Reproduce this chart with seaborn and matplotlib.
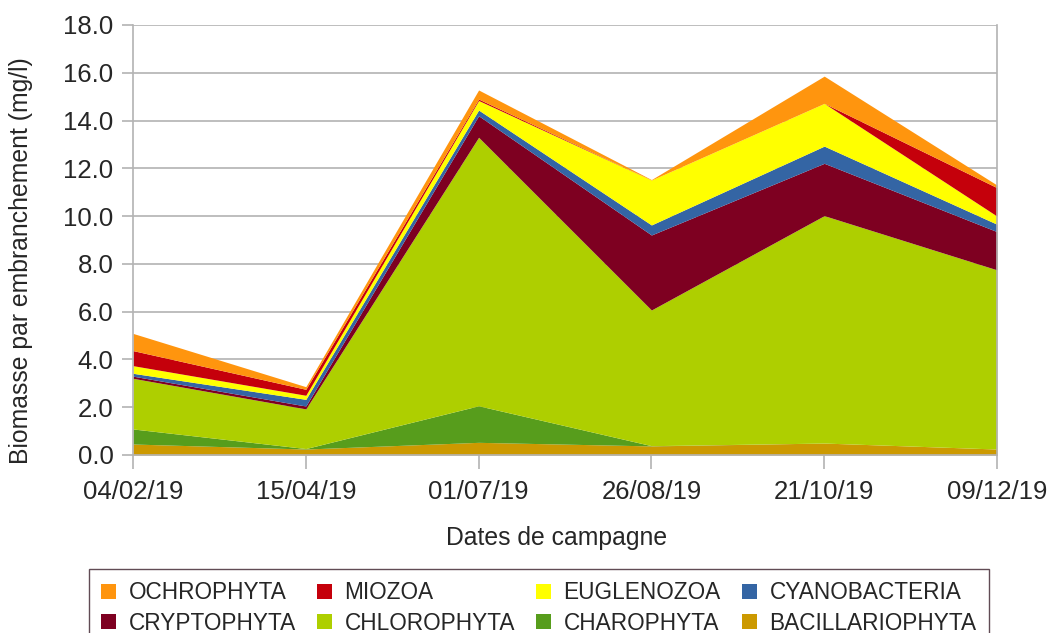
import matplotlib
matplotlib.use("Agg")
import matplotlib.pyplot as plt
import numpy as np
import seaborn as sns
from matplotlib.patches import Patch

# campaign dates (x categories)
dates = ["04/02/19", "15/04/19", "01/07/19", "26/08/19", "21/10/19", "09/12/19"]

# biomass per phylum (mg/l), bottom of the stack first
bacillariophyta = [0.46, 0.25, 0.53, 0.38, 0.50, 0.25]
charophyta      = [0.63, 0.02, 1.53, 0.01, 0.00, 0.00]
chlorophyta     = [2.12, 1.66, 11.24, 5.68, 9.52, 7.50]
cryptophyta     = [0.09, 0.12, 0.90, 3.14, 2.19, 1.60]
cyanobacteria   = [0.12, 0.28, 0.24, 0.42, 0.72, 0.31]
euglenozoa      = [0.32, 0.17, 0.40, 1.88, 1.79, 0.34]
miozoa          = [0.63, 0.25, 0.06, 0.00, 0.00, 1.19]
ochrophyta      = [0.72, 0.11, 0.38, 0.02, 1.14, 0.11]

names = ["BACILLARIOPHYTA", "CHAROPHYTA", "CHLOROPHYTA", "CRYPTOPHYTA",
         "CYANOBACTERIA", "EUGLENOZOA", "MIOZOA", "OCHROPHYTA"]
series = [bacillariophyta, charophyta, chlorophyta, cryptophyta,
          cyanobacteria, euglenozoa, miozoa, ochrophyta]
colors = ["#CC9900", "#579D1C", "#AECF00", "#7E0021",
          "#3465A4", "#FFFF00", "#C5000B", "#FF950E"]

sns.set_theme(style="white")
plt.rcParams['font.family'] = ['Liberation Sans', 'DejaVu Sans']

fig = plt.figure(figsize=(10.51, 6.33), dpi=100)
ax = fig.add_axes([133/1051, 1-455/633, (997-133)/1051, (455-25)/633])

x = np.arange(len(dates))
pal = sns.color_palette(colors)
ax.stackplot(x, *series, colors=pal, linewidth=0, antialiased=True)

ax.set_xlim(0, len(dates)-1)
ax.set_ylim(0, 18)
ax.set_yticks(np.arange(0, 18.1, 2))
ax.set_yticklabels([f"{v:.1f}" for v in np.arange(0, 18.1, 2)])
ax.set_xticks(x)
ax.set_xticklabels(dates)

gray = "#b3b3b3"
ax.grid(axis="y", color=gray, linewidth=1.2)
ax.set_axisbelow(True)
for s in ax.spines.values():
    s.set_color(gray)
    s.set_linewidth(1.2)
ax.spines["top"].set_visible(False)
ax.tick_params(axis="y", direction="out", length=8, width=1.2, color=gray,
               labelsize=18.5, pad=6, left=True)
ax.tick_params(axis="x", direction="out", length=10, width=1.2, color=gray,
               labelsize=18.5, pad=8, bottom=True)

ax.set_xlabel("Dates de campagne", fontsize=17.8)
ax.set_ylabel("Biomasse par embranchement (mg/l)", fontsize=17.8)
ax.xaxis.set_label_coords(0.49, -0.165)
ax.yaxis.set_label_coords(-0.116, 0.453)

# legend, row-wise order like the original
order = ["OCHROPHYTA", "CRYPTOPHYTA", "MIOZOA", "CHLOROPHYTA",
         "EUGLENOZOA", "CHAROPHYTA", "CYANOBACTERIA", "BACILLARIOPHYTA"]
handles = [Patch(facecolor=colors[names.index(n)], edgecolor="none", label=n) for n in order]
leg = fig.legend(handles=handles, ncol=4, loc="upper left",
                 bbox_to_anchor=(89/1051, 1-569/633, 900/1051, 0.0),
                 mode="expand", fontsize=16.3, frameon=True, fancybox=False,
                 handlelength=0.65, handleheight=0.65, handletextpad=0.55,
                 borderpad=0.55, labelspacing=0.32, columnspacing=0.8,
                 borderaxespad=0)
leg.get_frame().set_edgecolor("#3a1f2a")
leg.get_frame().set_linewidth(1.0)

fig.savefig("out.png", dpi=100)
